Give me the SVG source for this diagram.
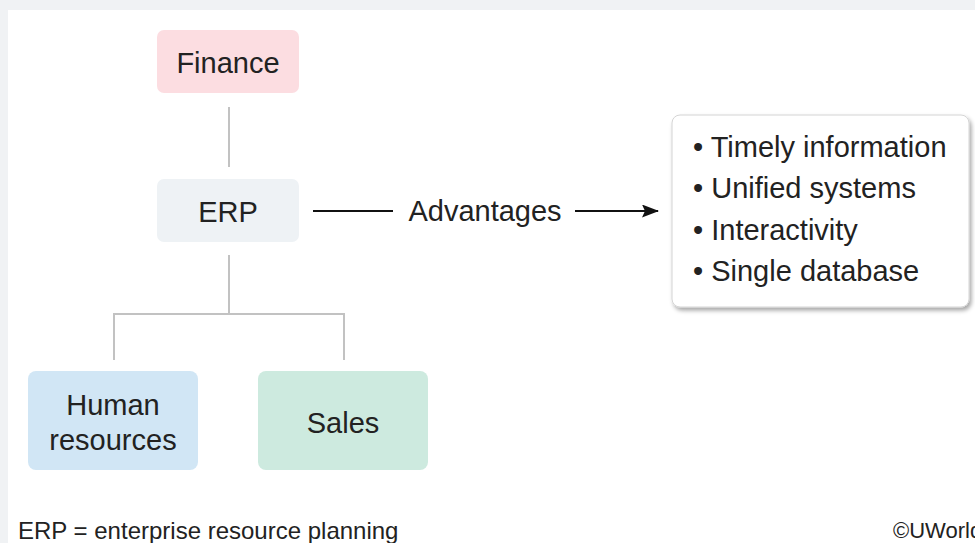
<svg xmlns="http://www.w3.org/2000/svg" width="975" height="543" viewBox="0 0 975 543">
  <style>
    .t { font-family: "Liberation Sans", Arial, sans-serif; fill: #222; }
    .big { font-size: 29px; }
    .node { stroke: none; }
    .tree { stroke: #c2c2c2; stroke-width: 2; fill: none; }
    .adv { stroke: #111; stroke-width: 2; fill: none; }
  </style>
  <defs>
    <marker id="arrowhead" viewBox="0 0 17 13" refX="16" refY="6.5" markerWidth="17" markerHeight="13" markerUnits="userSpaceOnUse" orient="auto">
      <path d="M0,0 L17,6.5 L0,13 L3,6.5 Z" fill="#111"/>
    </marker>
    <filter id="shadow" x="-10%" y="-10%" width="125%" height="130%">
      <feDropShadow dx="2" dy="3" stdDeviation="2" flood-color="#000" flood-opacity="0.35"/>
    </filter>
  </defs>

  <!-- page background and panel -->
  <rect x="0" y="0" width="975" height="543" fill="#f0f2f4"/>
  <rect x="8" y="10" width="967" height="533" fill="#ffffff"/>

  <!-- connectors -->
  <g id="connectors">
    <line class="tree" x1="229" y1="107" x2="229" y2="167"/>
    <path class="tree" d="M229,255 V314 M114,360 V314 H344 V360"/>
    <line class="adv" x1="313" y1="211" x2="393" y2="211"/>
    <line class="adv" x1="575" y1="211" x2="658" y2="211" marker-end="url(#arrowhead)"/>
    <text class="t big" x="485" y="221" text-anchor="middle">Advantages</text>
  </g>

  <g id="finance">
    <rect class="node" x="157" y="30" width="142" height="63" rx="7" fill="#fcdde1"/>
    <text class="t big" x="228" y="73" text-anchor="middle">Finance</text>
  </g>

  <g id="erp">
    <rect class="node" x="157" y="179" width="142" height="63" rx="7" fill="#eef2f5"/>
    <text class="t big" x="228" y="222" text-anchor="middle">ERP</text>
  </g>

  <g id="human-resources">
    <rect class="node" x="28" y="371" width="170" height="99" rx="8" fill="#d1e6f5"/>
    <text class="t big" x="113" y="415" text-anchor="middle">Human</text>
    <text class="t big" x="113" y="450" text-anchor="middle">resources</text>
  </g>

  <g id="sales">
    <rect class="node" x="258" y="371" width="170" height="99" rx="8" fill="#cdeadf"/>
    <text class="t big" x="343" y="433" text-anchor="middle">Sales</text>
  </g>

  <g id="advantages-list">
    <rect x="672" y="115" width="297" height="192" rx="8" fill="#ffffff" stroke="#d4d4d4" stroke-width="1" filter="url(#shadow)"/>
    <text class="t big" x="693" y="157">• Timely information</text>
    <text class="t big" x="693" y="198">• Unified systems</text>
    <text class="t big" x="693" y="240">• Interactivity</text>
    <text class="t big" x="693" y="281">• Single database</text>
  </g>

  <!-- footnote and credit -->
  <text class="t" x="18" y="539" font-size="24">ERP = enterprise resource planning</text>
  <text class="t" x="893" y="538" font-size="22">©UWorld</text>
</svg>
